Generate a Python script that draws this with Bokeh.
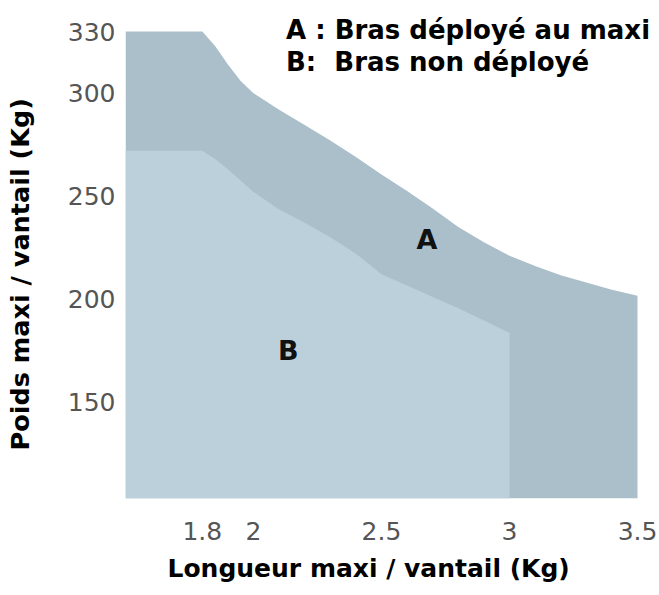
from bokeh.plotting import figure
from bokeh.models import Range1d, FixedTicker, Label, NumeralTickFormatter, Title
from bokeh.embed import file_html
from bokeh.resources import INLINE

# --- data ---
x_a = [1.5, 1.8, 1.85, 1.9, 1.95, 2.0, 2.1, 2.2, 2.3, 2.4, 2.5, 2.6, 2.7, 2.8, 2.9, 3.0, 3.1, 3.2, 3.3, 3.4, 3.5]
y_a = [330, 330, 323, 314, 306, 300, 292, 284.5, 277, 269, 260.5, 252.5, 244, 235, 227.5, 221, 216, 211.5, 208, 204.5, 201.5]

x_b = [1.5, 1.8, 1.85, 1.9, 2.0, 2.1, 2.2, 2.3, 2.4, 2.5, 2.6, 2.7, 2.8, 2.9, 3.0]
y_b = [272, 272, 268, 263, 252, 243.5, 237, 230, 222, 212, 206.5, 201, 195.5, 189.5, 183.5]

x_ticks = [1.8, 2, 2.5, 3, 3.5]
x_tick_labels = ["1.8", "2", "2.5", "3", "3.5"]
y_ticks = [150, 200, 250, 300, 330]
y_tick_labels = ["150", "200", "250", "300", "330"]

legend_lines = ["A : Bras déployé au maxi", "B:\u00a0 Bras non déployé"]
area_names = ["A", "B"]
x_title = "Longueur maxi / vantail (Kg)"
y_title = "Poids maxi / vantail (Kg)"

color_a = "#aabfc9"
color_b = "#bbd0db"
FONT = "DejaVu Sans"

# frame: x 125..656 px, y 0..498 px (the top/right room holds the legend text)
p = figure(width=659, height=595, output_backend="svg", toolbar_location=None,
           x_range=Range1d(1.5, 3.5742), y_range=Range1d(103, 345.07),
           min_border_left=125, min_border_right=3, min_border_top=0, min_border_bottom=97)
p.outline_line_color = None
p.background_fill_color = "white"
p.border_fill_color = "white"
p.xgrid.visible = False
p.ygrid.visible = False

p.varea(x=x_a, y1=103, y2=y_a, fill_color=color_a, fill_alpha=1.0)
p.varea(x=x_b, y1=103, y2=y_b, fill_color=color_b, fill_alpha=1.0)

for ax in (p.xaxis[0], p.yaxis[0]):
    ax.axis_line_color = None
    ax.major_tick_line_color = None
    ax.minor_tick_line_color = None
    ax.major_tick_in = 0
    ax.major_tick_out = 0
    ax.minor_tick_in = 0
    ax.minor_tick_out = 0
    ax.major_label_text_font = FONT
    ax.major_label_text_font_size = "25px"
    ax.major_label_text_color = "#555555"

p.xaxis.ticker = FixedTicker(ticks=x_ticks)
p.xaxis.formatter = NumeralTickFormatter(format="0.[0]")
p.xaxis.major_label_overrides = dict(zip(x_ticks, x_tick_labels))
p.yaxis.ticker = FixedTicker(ticks=y_ticks)
p.yaxis.major_label_overrides = dict(zip(y_ticks, y_tick_labels))
p.xaxis.major_label_standoff = 23
p.yaxis.major_label_standoff = 10

# tiny blank axis label only reserves room between the tick labels and the y title
p.yaxis.axis_label = "\u00a0"
p.yaxis.axis_label_text_font_size = "1px"
p.yaxis.axis_label_standoff = 22

# axis titles as side-panel titles for exact placement
xt = Title(text=x_title, align="left", offset=42, vertical_align="bottom", standoff=19,
           text_font=FONT, text_font_size="25px", text_font_style="bold", text_color="#000000")
p.add_layout(xt, "below")
yt = Title(text=y_title, align="left", offset=48, vertical_align="top", standoff=4,
           text_font=FONT, text_font_size="25.5px", text_font_style="bold", text_color="#000000")
p.add_layout(yt, "left")

# area labels
p.add_layout(Label(x=2.678, y=229, text=area_names[0], text_align="center", text_baseline="middle",
                   text_font=FONT, text_font_size="27px", text_font_style="bold", text_color="#111111"))
p.add_layout(Label(x=2.136, y=175, text=area_names[1], text_align="center", text_baseline="middle",
                   text_font=FONT, text_font_size="27px", text_font_style="bold", text_color="#111111"))

# legend text (top right)
p.add_layout(Label(x=2.127, y=330.5, text=legend_lines[0], text_align="left", text_baseline="middle",
                   text_font=FONT, text_font_size="26px", text_font_style="bold", text_color="#000000"))
p.add_layout(Label(x=2.127, y=315.4, text=legend_lines[1], text_align="left", text_baseline="middle",
                   text_font=FONT, text_font_size="26px", text_font_style="bold", text_color="#000000"))

open("out.html", "w").write(file_html(p, INLINE))
